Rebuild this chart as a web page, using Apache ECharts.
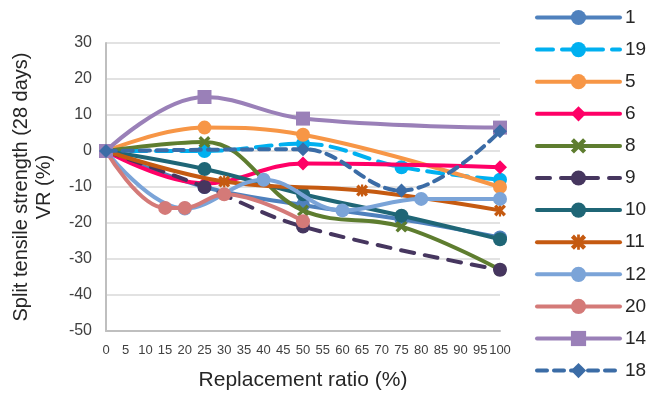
<!DOCTYPE html>
<html>
<head>
<meta charset="utf-8">
<script src="https://cdn.jsdelivr.net/npm/echarts@6/dist/echarts.min.js"></script>
<style>
  html, body { margin: 0; padding: 0; background: #fff; }
  #chart { width: 653px; height: 396px; }
</style>
</head>
<body>
<div id="chart"></div>
<script>
// Split tensile strength change (VR, %) against replacement ratio, one line per mix
const xTicks = { min: 0, max: 100, step: 5 };
const yTicks = { min: -50, max: 30, step: 10 };

const seriesNames = ['1', '19', '5', '6', '8', '9', '10', '11', '12', '20', '14', '18'];

// [replacement ratio %, VR %]
const s1  = [[0, 0], [25, -10], [50, -15], [75, -19], [100, -24]];
const s19 = [[0, 0], [25, 0], [50, 2], [75, -4.5], [100, -8]];
const s5  = [[0, 0], [25, 6.5], [50, 4.5], [100, -10]];
const s6  = [[0, 0], [25, -9], [50, -3.5], [100, -4.5]];
const s8  = [[0, 0], [25, 2.5], [50, -16.5], [75, -21], [100, -33]];
const s9  = [[0, 0], [25, -10], [50, -21], [100, -33]];
const s10 = [[0, 0], [25, -5], [50, -12], [75, -18], [100, -24.5]];
const s11 = [[0, 0], [30, -8.5], [65, -11], [100, -16.5]];
const s12 = [[0, 0], [20, -16], [40, -8], [60, -16.5], [80, -13.3], [100, -13.3]];
const s20 = [[0, 0], [15, -15.8], [20, -15.8], [30, -12], [50, -19.5]];
const s14 = [[0, 0], [25, 15], [50, 9], [100, 6.5]];
const s18 = [[0, 0], [50, 0.5], [75, -11], [100, 5.5]];

const seriesData = [s1, s19, s5, s6, s8, s9, s10, s11, s12, s20, s14, s18];

// filled cross and asterisk marker shapes
const crossPath = 'path://M2,0 L5,3 L8,0 L10,2 L7,5 L10,8 L8,10 L5,7 L2,10 L0,8 L3,5 L0,2 Z';
const starPath = 'path://M2,0 L5,3 L8,0 L10,2 L7,5 L10,8 L8,10 L5,7 L2,10 L0,8 L3,5 L0,2 Z M4.1,0 L5.9,0 L5.9,10 L4.1,10 Z';

const styles = [
  { color: '#4F81BD', symbol: 'circle', dash: 'solid' },
  { color: '#00B0F0', symbol: 'circle', dash: [16, 9] },
  { color: '#F79646', symbol: 'circle', dash: 'solid' },
  { color: '#FF0066', symbol: 'diamond', dash: 'solid' },
  { color: '#5E7D2F', symbol: crossPath, dash: 'solid', size: 12 },
  { color: '#46365F', symbol: 'circle', dash: [13, 11] },
  { color: '#1F6676', symbol: 'circle', dash: 'solid' },
  { color: '#C55A11', symbol: starPath, dash: 'solid', size: 12 },
  { color: '#7BA4D8', symbol: 'circle', dash: 'solid' },
  { color: '#D47A78', symbol: 'circle', dash: 'solid' },
  { color: '#9A80B8', symbol: 'rect', dash: 'solid' },
  { color: '#3B6CA6', symbol: 'diamond', dash: [10, 7] }
];

const FONT = 'Liberation Sans, Arial, sans-serif';

const series = seriesNames.map((name, i) => ({
  name: name,
  type: 'line',
  data: seriesData[i],
  smooth: 0.4,
  symbol: styles[i].symbol,
  symbolSize: styles[i].size || 14,
  showSymbol: true,
  z: 2 + i,
  lineStyle: { color: styles[i].color, width: 4, type: styles[i].dash, cap: 'round' },
  itemStyle: { color: styles[i].color, borderWidth: 0 },
  emphasis: { disabled: true },
  animation: false
}));

const chart = echarts.init(document.getElementById('chart'), null, { renderer: 'canvas' });
chart.setOption({
  backgroundColor: '#ffffff',
  animation: false,
  textStyle: { fontFamily: FONT },
  grid: { left: 106, right: 153, top: 43, bottom: 64, containLabel: false },
  legend: {
    data: seriesNames,
    orient: 'vertical',
    left: 530,
    top: 2,
    itemWidth: 83,
    itemHeight: 19,
    itemGap: 11.1,
    lineStyle: { width: 4 },
    textStyle: { fontSize: 19, color: '#262626', fontFamily: FONT, lineHeight: 21 },
    selectedMode: false
  },
  xAxis: {
    type: 'value',
    min: xTicks.min,
    max: xTicks.max,
    interval: xTicks.step,
    name: 'Replacement ratio (%)',
    nameLocation: 'middle',
    nameGap: 39,
    nameTextStyle: { fontSize: 21, color: '#262626', fontFamily: FONT },
    axisLine: { show: true, onZero: false, lineStyle: { color: '#BFBFBF', width: 2 } },
    axisTick: { show: false },
    axisLabel: { fontSize: 13, color: '#404040', margin: 13, fontFamily: FONT },
    splitLine: { show: false }
  },
  yAxis: {
    type: 'value',
    min: yTicks.min,
    max: yTicks.max,
    interval: yTicks.step,
    name: 'Split tensile strength (28 days)\nVR (%)',
    nameLocation: 'middle',
    nameRotate: 90,
    nameGap: 50,
    nameTextStyle: { fontSize: 20, color: '#262626', fontFamily: FONT, lineHeight: 23 },
    axisLine: { show: true, onZero: false, lineStyle: { color: '#BFBFBF', width: 2 } },
    axisTick: { show: false },
    axisLabel: { fontSize: 16, color: '#404040', margin: 14, fontFamily: FONT },
    splitLine: { show: true, lineStyle: { color: '#D9D9D9', width: 1.5 } }
  },
  series: series
});
</script>
</body>
</html>
